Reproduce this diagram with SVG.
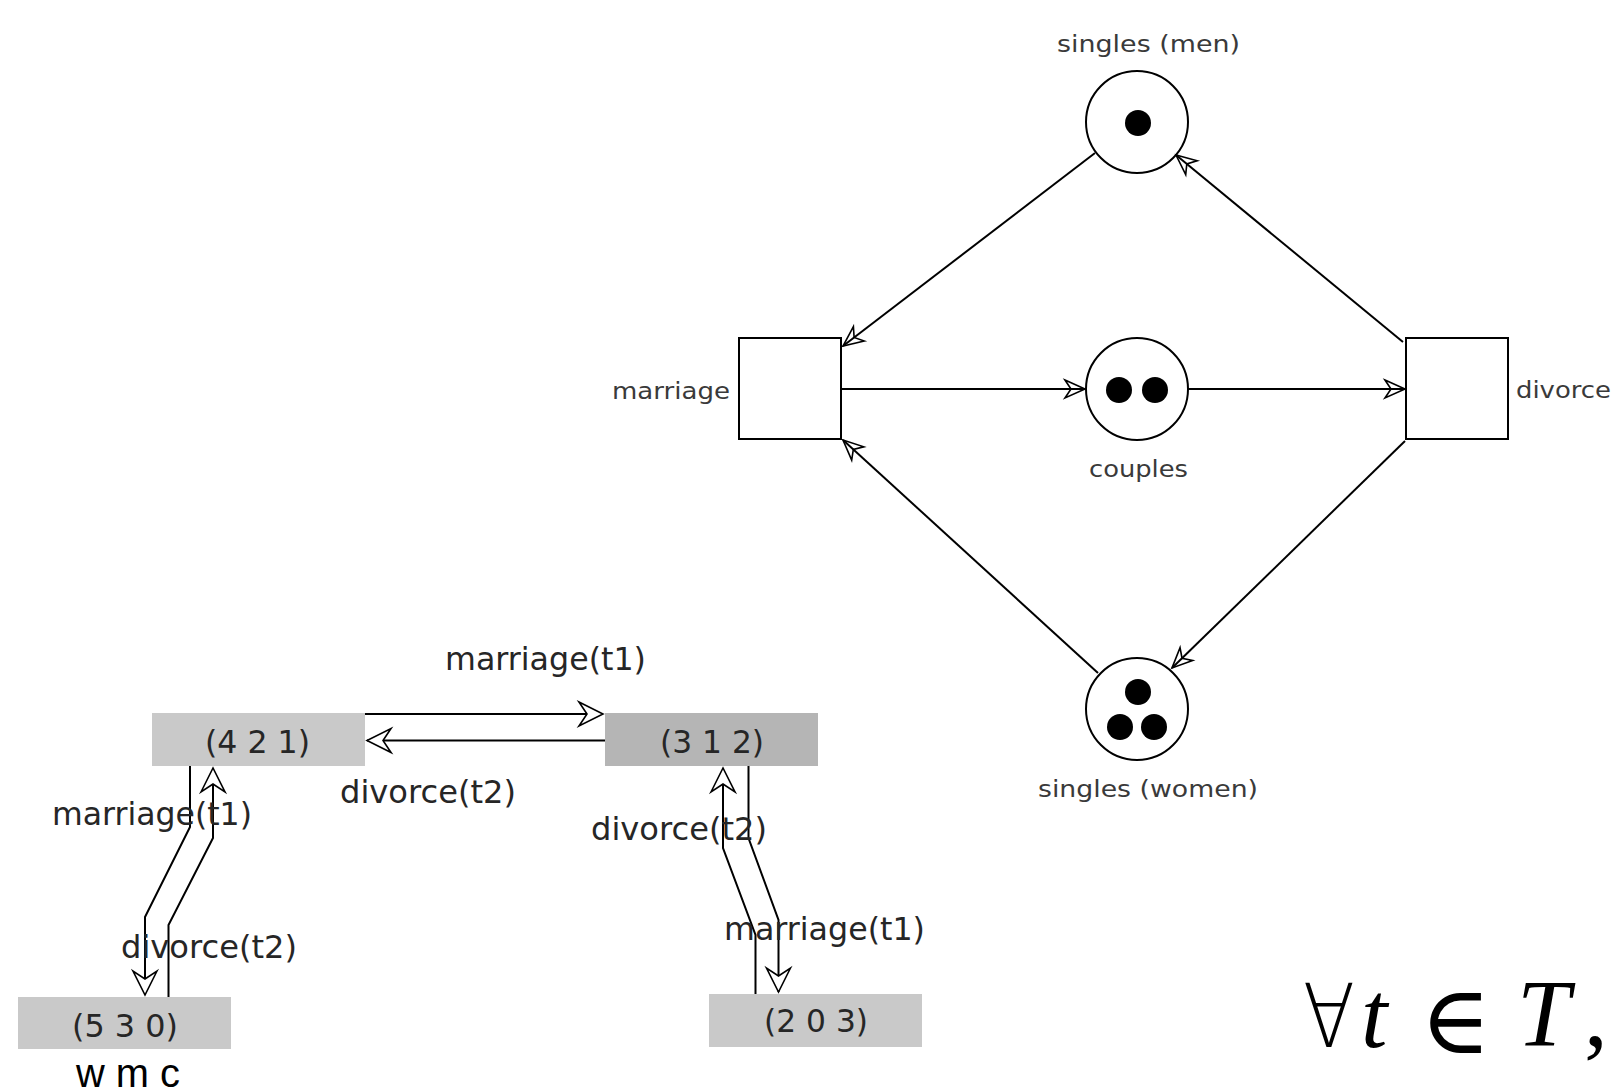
<svg xmlns="http://www.w3.org/2000/svg" width="1613" height="1092" viewBox="0 0 1613 1092">
<defs>
<style>
.lbl{font-family:"DejaVu Sans",sans-serif;font-size:23.5px;fill:#3a3a3a}
.lb2{font-family:"DejaVu Sans",sans-serif;font-size:31.5px;fill:#262626}
.place{fill:#fff;stroke:#000;stroke-width:2}
.tr{fill:#fff;stroke:#000;stroke-width:2}
.tok{fill:#000}
.arc{fill:none;stroke:#000;stroke-width:2}
.math{font-family:"Liberation Serif","DejaVu Serif",serif;fill:#000}
.sym{font-family:"DejaVu Sans","DejaVu Serif",sans-serif;font-weight:200;fill:#000}
</style>
<marker id="ah" markerUnits="userSpaceOnUse" viewBox="-25 -12 30 24" markerWidth="30" markerHeight="24" refX="0" refY="0" orient="auto" overflow="visible">
<path d="M-20,-9 L0,0 L-20,9 L-14,0 Z" fill="none" stroke="#000" stroke-width="1.6"/>
</marker>
<marker id="oh" markerUnits="userSpaceOnUse" viewBox="-28 -14 32 28" markerWidth="32" markerHeight="28" refX="0" refY="0" orient="auto" overflow="visible">
<path d="M-24,-12 L0,0 L-24,12 L-16,0 Z" fill="#fff" stroke="#000" stroke-width="1.6"/>
</marker>
</defs>
<rect width="1613" height="1092" fill="#fff"/>

<g id="singles-men">
<circle class="place" cx="1137" cy="122" r="51"/>
<circle class="tok" cx="1138" cy="123" r="13"/>
<text class="lbl" x="1057" y="52" textLength="183" lengthAdjust="spacingAndGlyphs">singles (men)</text>
</g>
<g id="couples">
<circle class="place" cx="1137" cy="389" r="51"/>
<circle class="tok" cx="1119" cy="390" r="13"/>
<circle class="tok" cx="1155" cy="390" r="13"/>
<text class="lbl" x="1089" y="477" textLength="99" lengthAdjust="spacingAndGlyphs">couples</text>
</g>
<g id="singles-women">
<circle class="place" cx="1137" cy="709" r="51"/>
<circle class="tok" cx="1138" cy="692" r="13"/>
<circle class="tok" cx="1120" cy="727" r="13"/>
<circle class="tok" cx="1154" cy="727" r="13"/>
<text class="lbl" x="1038" y="797" textLength="220" lengthAdjust="spacingAndGlyphs">singles (women)</text>
</g>
<g id="marriage">
<rect class="tr" x="739" y="338" width="102" height="101"/>
<text class="lbl" x="612" y="399" textLength="118" lengthAdjust="spacingAndGlyphs">marriage</text>
</g>
<g id="divorce">
<rect class="tr" x="1406" y="338" width="102" height="101"/>
<text class="lbl" x="1516" y="398" textLength="95" lengthAdjust="spacingAndGlyphs">divorce</text>
</g>

<g id="s421">
<rect x="152" y="713" width="213" height="53" fill="#c9c9c9"/>
<text class="lb2" x="205" y="753" textLength="105" lengthAdjust="spacingAndGlyphs">(4 2 1)</text>
</g>
<g id="s312">
<rect x="605" y="713" width="213" height="53" fill="#b5b5b5"/>
<text class="lb2" x="660" y="753" textLength="104" lengthAdjust="spacingAndGlyphs">(3 1 2)</text>
</g>
<g id="s530">
<rect x="18" y="997" width="213" height="52" fill="#c9c9c9"/>
<text class="lb2" x="72" y="1037" textLength="106" lengthAdjust="spacingAndGlyphs">(5 3 0)</text>
</g>
<g id="s203">
<rect x="709" y="994" width="213" height="53" fill="#c9c9c9"/>
<text class="lb2" x="764" y="1032" textLength="104" lengthAdjust="spacingAndGlyphs">(2 0 3)</text>
</g>

<g id="connectors">
<path class="arc" d="M1095,153 L843,346" marker-end="url(#ah)"/>
<path class="arc" d="M1403,342 L1176,155" marker-end="url(#ah)"/>
<path class="arc" d="M842,389 L1085,389" marker-end="url(#ah)"/>
<path class="arc" d="M1188,389 L1405,389" marker-end="url(#ah)"/>
<path class="arc" d="M1098,673 L843,440" marker-end="url(#ah)"/>
<path class="arc" d="M1405,441 L1172,668" marker-end="url(#ah)"/>

<path class="arc" d="M365,714 L603,714" marker-end="url(#oh)"/>
<path class="arc" d="M605,740.5 L367,740.5" marker-end="url(#oh)"/>
<path class="arc" d="M190,766 V827 L145,917 V995" marker-end="url(#oh)"/>
<path class="arc" d="M168.5,997 V925 L213,838 V768" marker-end="url(#oh)"/>
<path class="arc" d="M755.5,994 V935 L723,848 V768" marker-end="url(#oh)"/>
<path class="arc" d="M748.5,766 V838 L778.5,920 V992" marker-end="url(#oh)"/>
</g>

<g id="edge-labels">
<text class="lb2" x="445" y="670" textLength="201" lengthAdjust="spacingAndGlyphs">marriage(t1)</text>
<text class="lb2" x="340" y="803" textLength="176" lengthAdjust="spacingAndGlyphs">divorce(t2)</text>
<text class="lb2" x="52" y="825" textLength="200" lengthAdjust="spacingAndGlyphs">marriage(t1)</text>
<text class="lb2" x="121" y="958" textLength="176" lengthAdjust="spacingAndGlyphs">divorce(t2)</text>
<text class="lb2" x="591" y="840" textLength="176" lengthAdjust="spacingAndGlyphs">divorce(t2)</text>
<text class="lb2" x="724" y="940" textLength="201" lengthAdjust="spacingAndGlyphs">marriage(t1)</text>
</g>

<text x="76" y="1087" font-family="Liberation Sans, Arial, sans-serif" font-size="40" fill="#000" textLength="104" lengthAdjust="spacingAndGlyphs">w m c</text>

<g id="formula">
<text class="sym" x="1303" y="1047" font-size="88" textLength="52" lengthAdjust="spacingAndGlyphs">∀</text>
<text class="math" x="1361" y="1047" font-size="95" font-style="italic">t</text>
<text class="sym" x="1420" y="1053" font-size="96">∈</text>
<text class="math" x="1517" y="1046" font-size="95" font-style="italic">T</text>
<text class="math" x="1584" y="1046" font-size="95">,</text>
</g>
</svg>
